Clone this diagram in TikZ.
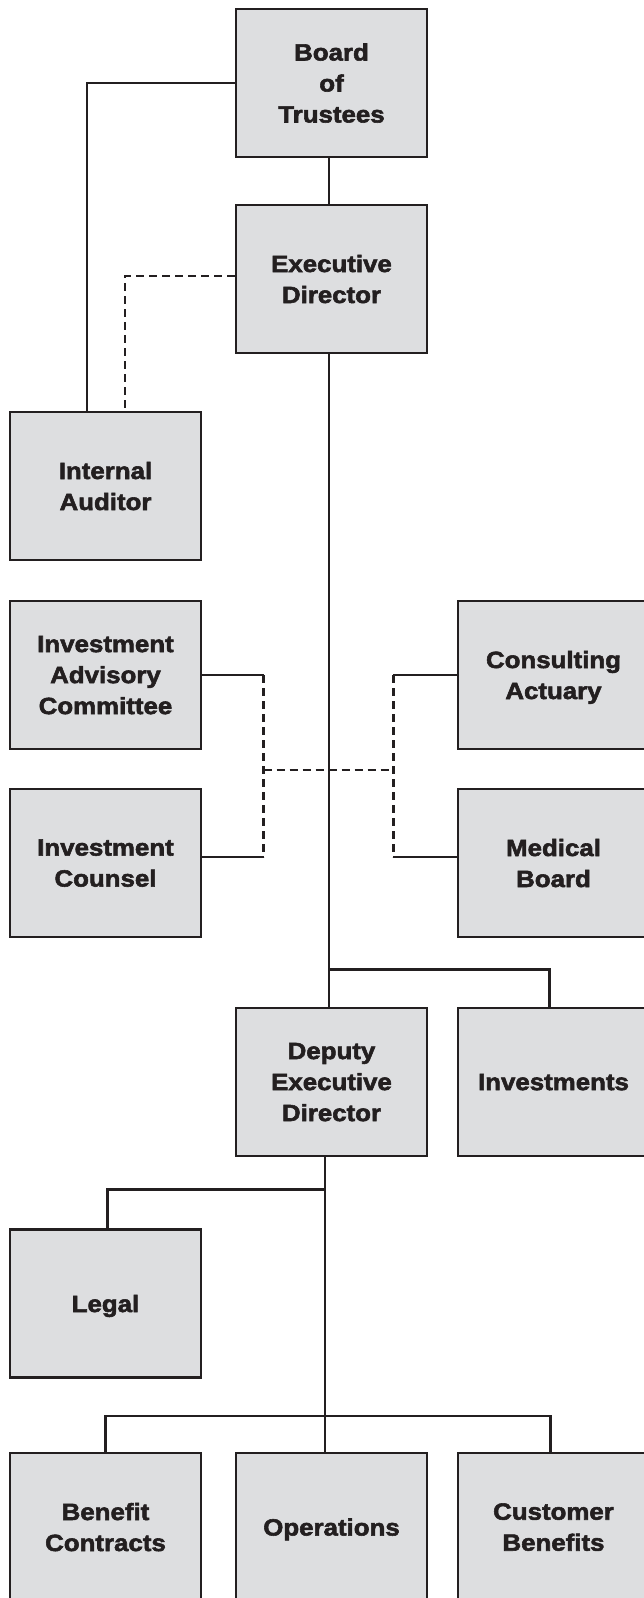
\documentclass[tikz,border=0pt]{standalone}
\usepackage{fontspec}
\newfontfamily\boxfont{Liberation Sans Bold}[FakeStretch=1.1, FakeBold=2.4]
\usetikzlibrary{calc,backgrounds}
\definecolor{ink}{HTML}{231F20}
\definecolor{boxgray}{HTML}{DDDEE0}
\begin{document}
\begin{tikzpicture}[x=1pt,y=-1pt,
  orgbox/.style={draw=ink, fill=boxgray, line width=2.8pt,
    minimum width=191pt, minimum height=148pt, inner sep=0pt,
    align=center, text=ink, text depth=0pt,
    font=\boxfont\fontsize{23.5}{31}\selectfont},
  link/.style={draw=ink, line width=2.6pt},
  thinlink/.style={draw=ink, line width=2pt},
  dashlink/.style={draw=ink, line width=2.3pt, dash pattern=on 8pt off 5pt}]

% page frame: the right column and the bottom row run past the edge
\clip (0,0) rectangle (644,1598);

% boxes
\node[orgbox] (board)    at (331.5,83)     {Board\\of\\Trustees};
\node[orgbox] (exec)     at (331.5,279)    {Executive\\Director};
\node[orgbox] (audit)    at (105.5,486)    {Internal\\Auditor};
\node[orgbox] (iac)      at (105.5,675)    {Investment\\Advisory\\Committee};
\node[orgbox] (actuary)  at (553.5,675)    {Consulting\\Actuary};
\node[orgbox] (counsel)  at (105.5,863)    {Investment\\Counsel};
\node[orgbox] (medical)  at (553.5,863)    {Medical\\Board};
\node[orgbox] (deputy)   at (331.5,1082)   {Deputy\\Executive\\Director};
\node[orgbox] (invest)   at (553.5,1082)   {Investments};
\node[orgbox] (legal)    at (105.5,1303.5) {Legal};
\node[orgbox] (benefit)  at (105.5,1527)   {Benefit\\Contracts};
\node[orgbox] (ops)      at (331.5,1527)   {Operations};
\node[orgbox] (customer) at (553.5,1527)   {Customer\\Benefits};

% helper coordinates for the connector routes
\coordinate (spine)    at (329,0);
\coordinate (branch)   at (0,969.5);
\coordinate (dl)       at (263.6,770);
\coordinate (dr)       at (393.4,770);
\coordinate (legalbar) at (0,1189.3);
\coordinate (bus)      at (0,1416);
\coordinate (execw)    at ($(exec.west)+(0,-3)$);
\coordinate (cl)       at ($(counsel.east)+(0,-6)$);
\coordinate (ml)       at ($(medical.west)+(0,-6)$);
\coordinate (dtop)     at ($(deputy.south)+(-6.5,0)$);
\coordinate (auditl)   at ($(audit.north)+(-18.5,0)$);
\coordinate (auditr)   at ($(audit.north)+(19.5,0)$);
\coordinate (investt)  at ($(invest.north)+(-4,0)$);
\coordinate (legalt)   at ($(legal.north)+(2,0)$);
\coordinate (custt)    at ($(customer.north)+(-3,0)$);

\begin{scope}[on background layer]
  \fill[white] (0,0) rectangle (644,1598);

  % board and executive director
  \draw[link] (board.west) -| (auditl);
  \draw[dashlink] (execw) -| (auditr);
  \draw[thinlink] (board.south -| spine) -- (exec.north -| spine);
  \draw[link] (exec.south -| spine) -- (deputy.north -| spine);
  \draw[link] (branch -| spine) -| (investt);

  % advisory bodies
  \draw[link] (iac.east) -- (iac.east -| dl);
  \draw[link] (cl) -- (cl -| dl);
  \draw[dashlink] (iac.east -| dl) -- (cl -| dl);
  \draw[link] (actuary.west) -- (actuary.west -| dr);
  \draw[link] (ml) -- (ml -| dr);
  \draw[dashlink] (actuary.west -| dr) -- (ml -| dr);
  \draw[dashlink] (dl) -- (dr);

  % deputy executive director and units
  \draw[link] (dtop) -- (dtop |- ops.north);
  \draw[link] (dtop |- legalbar) -| (legalt);
  \draw[link] (benefit.north) |- (custt |- bus) -- (custt);
\end{scope}
\end{tikzpicture}
\end{document}
